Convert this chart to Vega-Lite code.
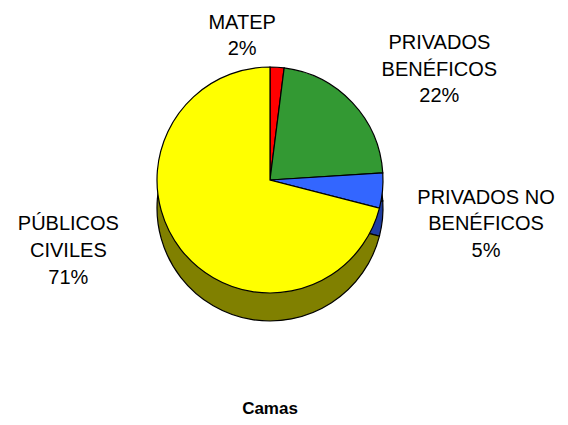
{
  "$schema": "https://vega.github.io/schema/vega-lite/v6.json",
  "width": 540,
  "height": 360,
  "autosize": {"type": "none"},
  "padding": {"left": 0, "top": 0, "right": 28, "bottom": 65},
  "background": "white",
  "config": {"view": {"stroke": null}, "font": "Liberation Sans"},
  "title": {"text": "Camas", "orient": "bottom", "frame": "group", "anchor": "middle", "offset": 41, "font": "Liberation Sans", "fontSize": 17, "fontWeight": "bold", "color": "black"},
  "data": {"values": [
    {"sector": "MATEP", "idx": 1, "value": 2, "label": "MATEP\n2%"},
    {"sector": "PRIVADOS BENÉFICOS", "idx": 2, "value": 22, "label": "PRIVADOS\nBENÉFICOS\n22%"},
    {"sector": "PRIVADOS NO BENÉFICOS", "idx": 3, "value": 5, "label": "PRIVADOS NO\nBENÉFICOS\n5%"},
    {"sector": "PÚBLICOS CIVILES", "idx": 4, "value": 71, "label": "PÚBLICOS\nCIVILES\n71%"}
  ]},
  "encoding": {
    "theta": {"field": "value", "type": "quantitative", "stack": true},
    "order": {"field": "idx", "type": "quantitative"}
  },
  "layer": [
    {
      "mark": {"type": "arc", "radius": 113, "yOffset": 28, "stroke": "black", "strokeWidth": 1.2},
      "encoding": {
        "fill": {"field": "sector", "type": "nominal", "legend": null,
          "scale": {"domain": ["MATEP", "PRIVADOS BENÉFICOS", "PRIVADOS NO BENÉFICOS", "PÚBLICOS CIVILES"],
                    "range": ["#800000", "#1A4D1A", "#1F3D9F", "#808000"]}}
      }
    },
    {
      "mark": {"type": "arc", "radius": 113, "stroke": "black", "strokeWidth": 1.2},
      "encoding": {
        "color": {"field": "sector", "type": "nominal", "legend": null,
          "scale": {"domain": ["MATEP", "PRIVADOS BENÉFICOS", "PRIVADOS NO BENÉFICOS", "PÚBLICOS CIVILES"],
                    "range": ["#FF0000", "#339933", "#3366FF", "#FFFF00"]}}
      }
    },
    {
      "mark": {"type": "text", "radius": 146, "dx": -37, "dy": -11.5, "lineBreak": "\n", "lineHeight": 26.7, "fontSize": 20, "font": "Liberation Sans", "color": "black"},
      "encoding": {"text": {"condition": {"test": "datum.sector === 'MATEP'", "field": "label"}, "value": ""}}
    },
    {
      "mark": {"type": "text", "radius": 198, "dx": 25, "dy": -1.5, "lineBreak": "\n", "lineHeight": 26.7, "fontSize": 20, "font": "Liberation Sans", "color": "black"},
      "encoding": {"text": {"condition": {"test": "datum.sector === 'PRIVADOS BENÉFICOS'", "field": "label"}, "value": ""}}
    },
    {
      "mark": {"type": "text", "radius": 218, "dx": -1, "dy": -3, "lineBreak": "\n", "lineHeight": 26.7, "fontSize": 20, "font": "Liberation Sans", "color": "black"},
      "encoding": {"text": {"condition": {"test": "datum.sector === 'PRIVADOS NO BENÉFICOS'", "field": "label"}, "value": ""}}
    },
    {
      "mark": {"type": "text", "radius": 221, "dx": -27, "dy": -91, "lineBreak": "\n", "lineHeight": 26.7, "fontSize": 20, "font": "Liberation Sans", "color": "black"},
      "encoding": {"text": {"condition": {"test": "datum.sector === 'PÚBLICOS CIVILES'", "field": "label"}, "value": ""}}
    }
  ]
}
